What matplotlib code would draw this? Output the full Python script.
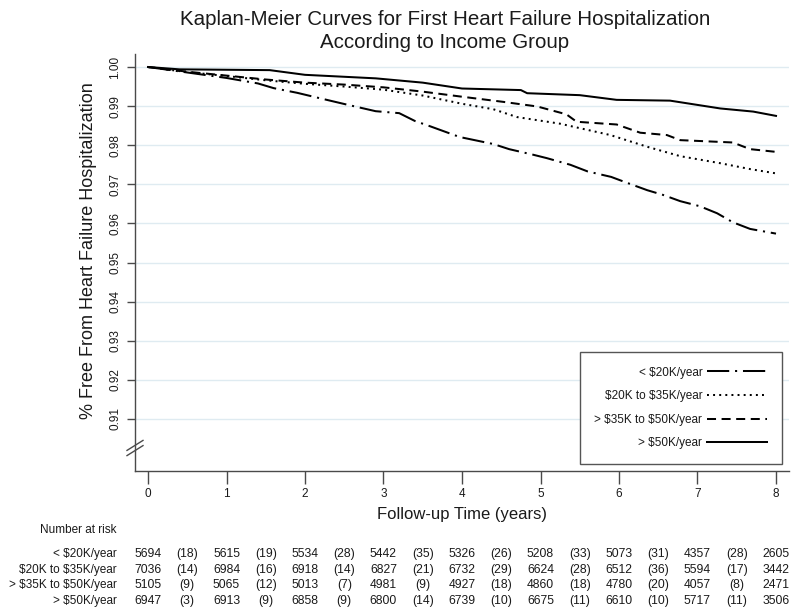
import matplotlib
matplotlib.use("Agg")
import matplotlib.pyplot as plt
import matplotlib.transforms as mtransforms

plt.rcParams['font.family'] = ['Liberation Sans', 'DejaVu Sans']
plt.rcParams['text.parse_math'] = False
plt.rcParams['lines.scale_dashes'] = False

# ---------------- data ----------------
groups = ["< $20K/year", "$20K to $35K/year", "> $35K to $50K/year", "> $50K/year"]

t_lt20 = [0, 0.5, 1.0, 1.4, 1.6, 1.9, 2.15, 2.53, 2.9, 3.2, 3.4, 3.6, 3.97, 4.4, 4.6, 4.9,
          5.08, 5.38, 5.6, 5.9, 6.1, 6.36, 6.56, 6.78, 7.03, 7.25, 7.45, 7.67, 8.0]
s_lt20 = [1.0, 0.9986, 0.9972, 0.9958, 0.9946, 0.9934, 0.9922, 0.9904, 0.9887, 0.9882, 0.9862,
          0.9848, 0.9821, 0.9803, 0.9790, 0.9776, 0.9767, 0.9750, 0.9733, 0.9719, 0.9704, 0.9685,
          0.9673, 0.9657, 0.9644, 0.9626, 0.9603, 0.9586, 0.9574]

t_20_35 = [0, 0.5, 1.0, 1.5, 2.0, 2.5, 3.0, 3.5, 4.0, 4.4, 4.7, 5.25, 5.89, 6.36, 6.78, 7.29, 7.67, 8.0]
s_20_35 = [1.0, 0.9987, 0.9977, 0.9966, 0.9957, 0.9950, 0.9942, 0.9927, 0.9906, 0.9892, 0.9872,
           0.9855, 0.9826, 0.9796, 0.9772, 0.9754, 0.9739, 0.9728]

t_35_50 = [0, 0.5, 1.0, 1.5, 2.0, 2.5, 3.0, 3.5, 4.0, 4.52, 4.96, 5.33, 5.46, 5.97, 6.27, 6.61,
           6.78, 7.45, 7.67, 8.0]
s_35_50 = [1.0, 0.9988, 0.9978, 0.9968, 0.9960, 0.9955, 0.9948, 0.9937, 0.9924, 0.9911, 0.9899,
           0.9879, 0.9860, 0.9853, 0.9832, 0.9826, 0.9813, 0.9807, 0.9790, 0.9783]

t_gt50 = [0, 0.4, 1.55, 2.0, 2.9, 3.5, 4.0, 4.75, 4.83, 5.5, 5.97, 6.65, 7.29, 7.71, 8.0]
s_gt50 = [1.0, 0.9994, 0.9992, 0.9980, 0.9971, 0.9960, 0.9945, 0.9941, 0.9933, 0.9928, 0.9916,
          0.9914, 0.9894, 0.9886, 0.9875]

x_ticks = [0, 1, 2, 3, 4, 5, 6, 7, 8]
y_ticks = [0.91, 0.92, 0.93, 0.94, 0.95, 0.96, 0.97, 0.98, 0.99, 1.00]
y_ticklabels = ["0.91", "0.92", "0.93", "0.94", "0.95", "0.96", "0.97", "0.98", "0.99", "1.00"]

at_risk_lt20 = [5694, 5615, 5534, 5442, 5326, 5208, 5073, 4357, 2605]
events_lt20 = [18, 19, 28, 35, 26, 33, 31, 28]
at_risk_20_35 = [7036, 6984, 6918, 6827, 6732, 6624, 6512, 5594, 3442]
events_20_35 = [14, 16, 14, 21, 29, 28, 36, 17]
at_risk_35_50 = [5105, 5065, 5013, 4981, 4927, 4860, 4780, 4057, 2471]
events_35_50 = [9, 12, 7, 9, 18, 18, 20, 8]
at_risk_gt50 = [6947, 6913, 6858, 6800, 6739, 6675, 6610, 5717, 3506]
events_gt50 = [3, 9, 9, 14, 10, 11, 10, 11]

# ---------------- figure ----------------
W, H = 800, 612
fig = plt.figure(figsize=(W / 100, H / 100), dpi=100)
fig.patch.set_facecolor('white')

ax_l, ax_r, ax_t, ax_b = 135, 789, 54, 471
ax = fig.add_axes([ax_l / W, 1 - ax_b / H, (ax_r - ax_l) / W, (ax_b - ax_t) / H])

txt = '#1a1a1a'
axc = '#4a4a4a'
lw = 1.45

series = [
    (t_lt20, s_lt20, dict(linestyle=(0, (16, 4.2, 1.5, 4.2)))),
    (t_20_35, s_20_35, dict(linestyle=(0, (1.4, 3.0)))),
    (t_35_50, s_35_50, dict(linestyle=(0, (6.5, 4.0)))),
    (t_gt50, s_gt50, dict(linestyle='-')),
]
handles = []
for (t, s, st), lab in zip(series, groups):
    h, = ax.plot(t, s, color='black', lw=lw, label=lab, dash_capstyle='butt', **st)
    handles.append(h)

x0px, x8px = 148, 776
ppu = (x8px - x0px) / 8
ax.set_xlim((ax_l - x0px) / ppu, (ax_r - x0px) / ppu)
ypu = (419 - 67) / 0.09
ax.set_ylim(1 - (ax_b - 67) / ypu, 1 + (67 - ax_t) / ypu)

ax.set_xticks(x_ticks)
ax.set_xticklabels([str(v) for v in x_ticks], fontsize=8.5, color=txt)
ax.set_yticks(y_ticks)
ax.set_yticklabels(y_ticklabels, fontsize=8.5, color=txt, rotation=90, va='center')
ax.tick_params(axis='x', length=9, width=1.0, color=axc, pad=3)
ax.tick_params(axis='y', length=6, width=1.0, color=axc, pad=4)
for sp in ['top', 'right']:
    ax.spines[sp].set_visible(False)
for sp in ['left', 'bottom']:
    ax.spines[sp].set_color(axc)
    ax.spines[sp].set_linewidth(1.0)

ax.grid(axis='y', color='#dfebf1', lw=1.0)
ax.set_axisbelow(True)

ax.set_xlabel("Follow-up Time (years)", fontsize=12, color=txt, labelpad=5)
ax.set_ylabel("% Free From Heart Failure Hospitalization", fontsize=13, color=txt, labelpad=3)
ax.yaxis.set_label_coords((97 - ax_l) / (ax_r - ax_l), (ax_b - 251) / (ax_b - ax_t))

# axis break mark on the y axis
ybreak = 1 - (448 - 67) / ypu
trans_b = mtransforms.blended_transform_factory(ax.transAxes, ax.transData)
bw = 8 / (ax_r - ax_l)
bh = 5 / ypu
for off in (-2.6 / ypu, 2.6 / ypu):
    ax.plot([-bw, bw], [ybreak + off - bh, ybreak + off + bh], transform=trans_b,
            color=axc, lw=1.0, clip_on=False)

# legend
leg = ax.legend(handles=handles, loc='lower right',
                bbox_to_anchor=((782 - ax_l) / (ax_r - ax_l), (ax_b - 464) / (ax_b - ax_t)),
                borderaxespad=0, markerfirst=False, fontsize=8.5, handlelength=5.1,
                handletextpad=0.4, labelspacing=0.98, borderpad=1.25, fancybox=False,
                framealpha=1, edgecolor='#555555')
leg.get_frame().set_linewidth(1.0)
for tx in leg.get_texts():
    tx.set_color(txt)

# title
fig.text(445 / W, 1 - 31 / H,
         "Kaplan-Meier Curves for First Heart Failure Hospitalization\nAccording to Income Group",
         ha='center', va='center', fontsize=14.8, color=txt, linespacing=1.32)

# number at risk table
trans_t = mtransforms.blended_transform_factory(ax.transData, fig.transFigure)
fig.text(117 / W, 1 - 530 / H, "Number at risk", ha='right', va='center', fontsize=8.5, color=txt)
rows = [(at_risk_lt20, events_lt20), (at_risk_20_35, events_20_35),
        (at_risk_35_50, events_35_50), (at_risk_gt50, events_gt50)]
row_y = [554, 569.7, 585.3, 601]
for (nr, ev), lab, yp in zip(rows, groups, row_y):
    yf = 1 - yp / H
    fig.text(117 / W, yf, lab, ha='right', va='center', fontsize=8.5, color=txt)
    for i, n in enumerate(nr):
        ax.text(x_ticks[i], yf, str(n), transform=trans_t, ha='center', va='center',
                fontsize=8.7, color=txt)
    for i, e in enumerate(ev):
        ax.text(x_ticks[i] + 0.5, yf, "(%d)" % e, transform=trans_t, ha='center', va='center',
                fontsize=8.7, color=txt)

fig.savefig("out.png", dpi=100, facecolor='white')
